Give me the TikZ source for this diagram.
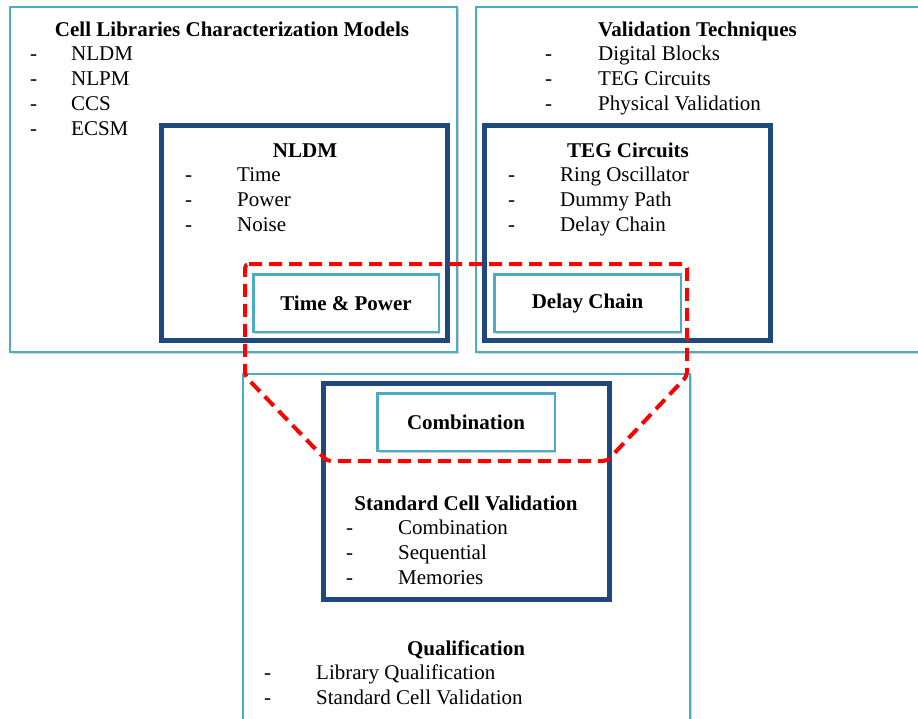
\documentclass[tikz,border=0pt]{standalone}
\usepackage{fontspec}
\setmainfont{Liberation Serif}
\usetikzlibrary{shadows}
\definecolor{lightbl}{RGB}{75,172,198}
\definecolor{darkbl}{RGB}{31,73,125}
\definecolor{redd}{RGB}{255,0,0}
\tikzset{
  outerbox/.style={draw=lightbl, line width=2pt, fill=white, anchor=north west, minimum width=447pt, minimum height=345pt, inner sep=0pt,
    drop shadow={shadow xshift=1.5pt, shadow yshift=-2pt, opacity=0.3, fill=black!60}},
  darkbox/.style={draw=darkbl, line width=5pt, fill=white, anchor=north west, minimum width=286pt, minimum height=215pt, inner sep=0pt,
    drop shadow={shadow xshift=1.5pt, shadow yshift=-2.5pt, opacity=0.3, fill=black!60}},
  smallbox/.style={draw=lightbl, line width=2.5pt, fill=white, minimum height=57.5pt, inner sep=0pt, font=\fontsize{21}{25}\selectfont\bfseries,
    drop shadow={shadow xshift=1.5pt, shadow yshift=-2pt, opacity=0.3, fill=black!60}},
  ttl/.style={anchor=base, inner sep=0pt, font=\fontsize{21}{25}\selectfont\bfseries},
  itm/.style={anchor=base west, inner sep=0pt, font=\fontsize{21}{25}\selectfont},
  reddash/.style={draw=redd, line width=4pt, dash pattern=on 13pt off 7pt, rounded corners=4pt}
}
\begin{document}
\begin{tikzpicture}[x=1pt,y=-1pt]
\useasboundingbox[fill=white] (0,0) rectangle (918,718);
\begin{scope}
\clip (0,0) rectangle (918,718);
% outer boxes
\node[outerbox] (cellbox) at (9,6) {};
\node[outerbox] (valbox) at (475,6) {};
\node[outerbox, minimum height=365pt] (qualbox) at (242,373) {};
% dark boxes
\node[darkbox] (nldmbox) at (159,123) {};
\node[darkbox] (tegbox) at (482,123) {};
\node[darkbox, minimum height=216pt] (scvbox) at (321,381) {};
% small boxes
\node[smallbox, minimum width=185.5pt] (tp) at (346,303) {Time \& Power};
\node[smallbox, minimum width=186.5pt] (dc) at (587.5,303) {Delay Chain};
\node[smallbox, minimum width=177.5pt] (comb) at (466,422) {Combination};
\end{scope}
% box 1 text
\node[ttl] (t1) at (232,36) {Cell Libraries Characterization Models};
\foreach \y/\t [count=\i] in {60/NLDM,85/NLPM,110/CCS,135/ECSM}{
  \node[itm] (d1\i) at (30,\y) {-};
  \node[itm] (a1\i) at (71,\y) {\t};
}
% NLDM box
\node[ttl] (t2) at (305,157) {NLDM};
\foreach \y/\t [count=\i] in {181/Time,206/Power,231/Noise}{
  \node[itm] (d2\i) at (185,\y) {-};
  \node[itm] (a2\i) at (237,\y) {\t};
}
% box 2
\node[ttl, anchor=base west] (t3) at (598,36) {Validation Techniques};
\foreach \y/\t [count=\i] in {60/Digital Blocks,85/TEG Circuits,110/Physical Validation}{
  \node[itm] (d3\i) at (545,\y) {-};
  \node[itm] (a3\i) at (598,\y) {\t};
}
% TEG box
\node[ttl] (t4) at (628,157) {TEG Circuits};
\foreach \y/\t [count=\i] in {181/Ring Oscillator,206/Dummy Path,231/Delay Chain}{
  \node[itm] (d4\i) at (508,\y) {-};
  \node[itm] (a4\i) at (560,\y) {\t};
}
% SCV box
\node[ttl] (t5) at (466,510) {Standard Cell Validation};
\foreach \y/\t [count=\i] in {534/Combination,559/Sequential,584/Memories}{
  \node[itm] (d5\i) at (346,\y) {-};
  \node[itm] (a5\i) at (398,\y) {\t};
}
% Qualification
\node[ttl] (t6) at (466,655) {Qualification};
\foreach \y/\t [count=\i] in {679/Library Qualification,704/Standard Cell Validation}{
  \node[itm] (d6\i) at (264,\y) {-};
  \node[itm] (a6\i) at (316,\y) {\t};
}
% red dashed outline
\coordinate (r1) at (245,264);
\coordinate (r2) at (687,264);
\coordinate (r3) at (687,376);
\coordinate (r4) at (607,461);
\coordinate (r5) at (327,461);
\coordinate (r6) at (245,376);
\draw[reddash] (r1) -- (r2) -- (r3) -- (r4) -- (r5) -- (r6) -- cycle;
\end{tikzpicture}
\end{document}
